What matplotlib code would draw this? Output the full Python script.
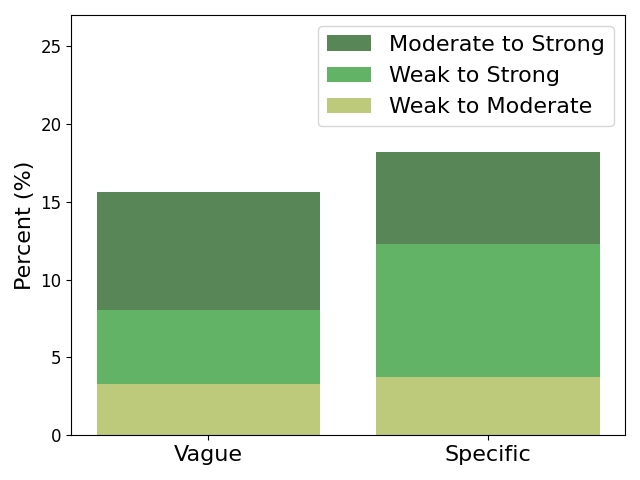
import matplotlib
matplotlib.use("Agg")
import matplotlib.pyplot as plt

categories = ["Vague", "Specific"]
# cumulative heights as drawn (overlapping bars)
moderate_to_strong = [15.6, 18.2]
weak_to_strong = [8.05, 12.3]
weak_to_moderate = [3.3, 3.75]

colors = {"Moderate to Strong": "#588657", "Weak to Strong": "#62b365", "Weak to Moderate": "#bdca7b"}

fig, ax = plt.subplots(figsize=(6.4, 4.8), dpi=100)
x = list(range(len(categories)))
ax.bar(x, moderate_to_strong, width=0.8, color=colors["Moderate to Strong"], label="Moderate to Strong")
ax.bar(x, weak_to_strong, width=0.8, color=colors["Weak to Strong"], label="Weak to Strong")
ax.bar(x, weak_to_moderate, width=0.8, color=colors["Weak to Moderate"], label="Weak to Moderate")
ax.set_xticks(x)
ax.set_xticklabels(categories, fontsize=16)
ax.tick_params(axis="y", labelsize=12)
ax.set_ylabel("Percent (%)", fontsize=16)
ax.set_ylim(0, 27)
ax.legend(fontsize=16, loc="upper right")
fig.tight_layout()
fig.savefig("out.png", dpi=100)
